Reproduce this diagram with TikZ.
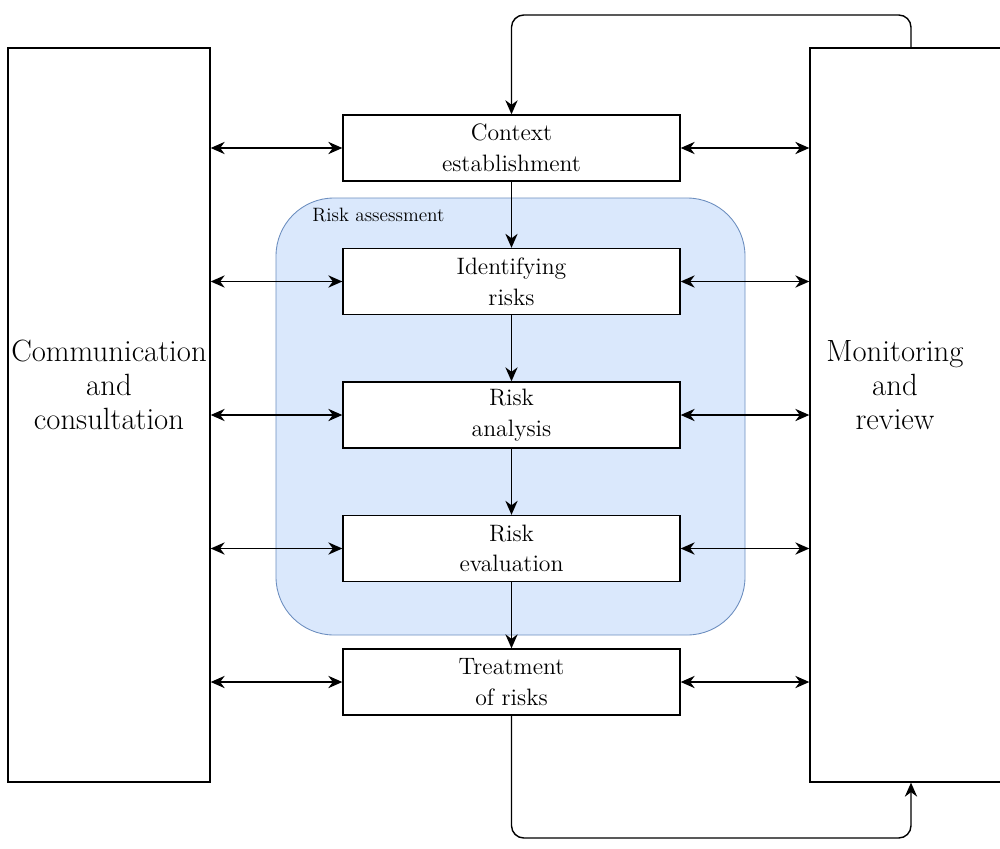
\documentclass[tikz,border=0pt]{standalone}
\usetikzlibrary{arrows.meta}
\definecolor{assessfill}{HTML}{DAE8FC}
\definecolor{assessline}{HTML}{6C8EBF}
\tikzset{
  stage/.style={draw, line width=0.8pt, fill=white, minimum width=6.74cm, minimum height=1.32cm, align=center, font=\fontsize{13.5}{17.5}\selectfont},
  side/.style={draw, line width=0.8pt, minimum width=4.04cm, minimum height=14.68cm},
  sidetext/.style={align=center, font=\fontsize{17.5}{19.5}\selectfont},
  flow/.style={-{Stealth[length=8pt,width=7pt]}, line width=0.8pt},
  both/.style={{Stealth[length=8pt,width=7pt]}-{Stealth[length=8pt,width=7pt]}, line width=0.8pt},
}
\begin{document}
\begin{tikzpicture}[x=0.02cm,y=-0.02cm]
\useasboundingbox (0,0) rectangle (1000,848);
% risk assessment area
\filldraw[fill=assessfill, draw=assessline, line width=0.5pt, rounded corners=33pt] (276,198) rectangle (745,635);
\node[anchor=west, inner sep=0pt, font=\fontsize{11}{12}\selectfont] (assess) at (312,215) {Risk assessment};

% side blocks
\node[side] (comm) at (109,415) {};
\node[side] (mon) at (911,415) {};
\node[sidetext] (commtext) at (109,385) {Communication\\and\\consultation};
\node[sidetext] (montext) at (895,385) {Monitoring\\and\\review};

% stages
\node[stage] (context) at (511.5,148) {Context\\establishment};
\node[stage] (identify) at (511.5,281.5) {Identifying\\risks};
\node[stage] (analysis) at (511.5,415) {Risk\\analysis};
\node[stage] (evaluation) at (511.5,548.5) {Risk\\evaluation};
\node[stage] (treatment) at (511.5,682) {Treatment\\of risks};

\foreach \s in {context,identify,analysis,evaluation,treatment}{
  \draw[both] (comm.east |- \s.west) -- (\s.west);
  \draw[both] (\s.east) -- (mon.west |- \s.east);
}
\draw[flow] (context) -- (identify);
\draw[flow] (identify) -- (analysis);
\draw[flow] (analysis) -- (evaluation);
\draw[flow] (evaluation) -- (treatment);

% feedback loops
\coordinate (top) at (511.5,15);
\coordinate (bottom) at (511.5,838);
\draw[flow, rounded corners=7pt] (mon.north) |- (top) -- (context.north);
\draw[flow, rounded corners=7pt] (treatment.south) -- (bottom) -| (mon.south);
\end{tikzpicture}
\end{document}
